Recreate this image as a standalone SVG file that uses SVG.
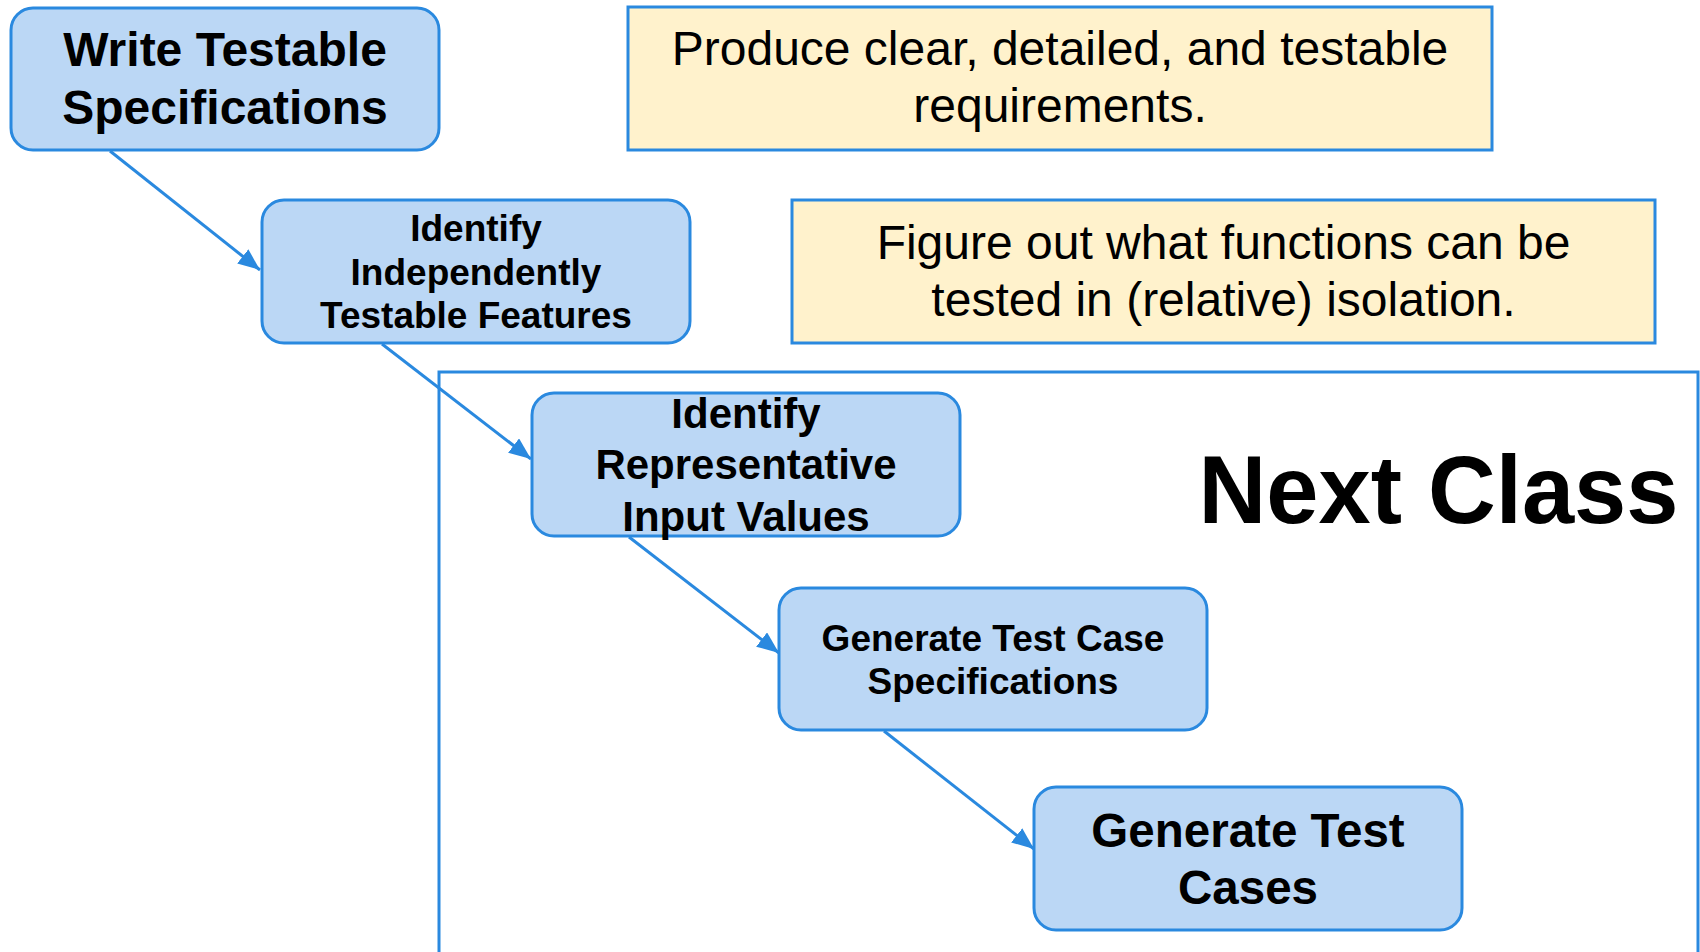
<svg xmlns="http://www.w3.org/2000/svg" width="1700" height="952" viewBox="0 0 1700 952">
<defs>
<style>
.node{fill:#bbd7f5;stroke:#2a89df;stroke-width:3}
.note{fill:#fff2cc;stroke:#2a89df;stroke-width:3}
.b{font-family:"Liberation Sans",Arial,sans-serif;font-weight:bold;fill:#000;text-anchor:middle}
.r{font-family:"Liberation Sans",Arial,sans-serif;fill:#000;text-anchor:middle;font-size:48px}
.conn{stroke:#2a89df;stroke-width:3;fill:none}
</style>
<marker id="ah" markerUnits="userSpaceOnUse" markerWidth="24" markerHeight="20" refX="22" refY="9" orient="auto">
<path d="M0,0 L22,9 L0,18 Z" fill="#2a89df"/>
</marker>
</defs>
<rect width="1700" height="952" fill="#fff"/>
<g id="nextclass">
<path d="M439,952 V372 H1698 V952" fill="none" stroke="#2a89df" stroke-width="3"/>
<text x="1438.5" y="523" class="b" font-size="96" textLength="480" lengthAdjust="spacingAndGlyphs">Next Class</text>
</g>
<g id="connectors">
<line class="conn" x1="110" y1="151" x2="260" y2="270" marker-end="url(#ah)"/>
<line class="conn" x1="382" y1="344" x2="531" y2="459" marker-end="url(#ah)"/>
<line class="conn" x1="629" y1="537" x2="779" y2="653" marker-end="url(#ah)"/>
<line class="conn" x1="884" y1="731" x2="1034" y2="849" marker-end="url(#ah)"/>
</g>
<g id="n1">
<rect class="node" x="11" y="8" width="428" height="142" rx="22"/>
<text class="b" font-size="48" x="225" y="66">Write Testable</text>
<text class="b" font-size="48" x="225" y="124">Specifications</text>
</g>
<g id="n2">
<rect class="node" x="262" y="200" width="428" height="143" rx="22"/>
<text class="b" font-size="37" x="476" y="241">Identify</text>
<text class="b" font-size="37" x="476" y="285">Independently</text>
<text class="b" font-size="37" x="476" y="328">Testable Features</text>
</g>
<g id="n3">
<rect class="node" x="532" y="393" width="428" height="143" rx="22"/>
<text class="b" font-size="42" x="746" y="428">Identify</text>
<text class="b" font-size="42" x="746" y="479">Representative</text>
<text class="b" font-size="42" x="746" y="531">Input Values</text>
</g>
<g id="n4">
<rect class="node" x="779" y="588" width="428" height="142" rx="22"/>
<text class="b" font-size="37" x="993" y="651">Generate Test Case</text>
<text class="b" font-size="37" x="993" y="694">Specifications</text>
</g>
<g id="n5">
<rect class="node" x="1034" y="787" width="428" height="143" rx="22"/>
<text class="b" font-size="47.5" x="1248" y="847">Generate Test</text>
<text class="b" font-size="47.5" x="1248" y="904">Cases</text>
</g>
<g id="note1">
<rect class="note" x="628" y="7" width="864" height="143"/>
<text class="r" x="1060" y="65">Produce clear, detailed, and testable</text>
<text class="r" x="1060" y="122">requirements.</text>
</g>
<g id="note2">
<rect class="note" x="792" y="200" width="863" height="143"/>
<text class="r" x="1223.5" y="259">Figure out what functions can be</text>
<text class="r" x="1223.5" y="316">tested in (relative) isolation.</text>
</g>
</svg>
